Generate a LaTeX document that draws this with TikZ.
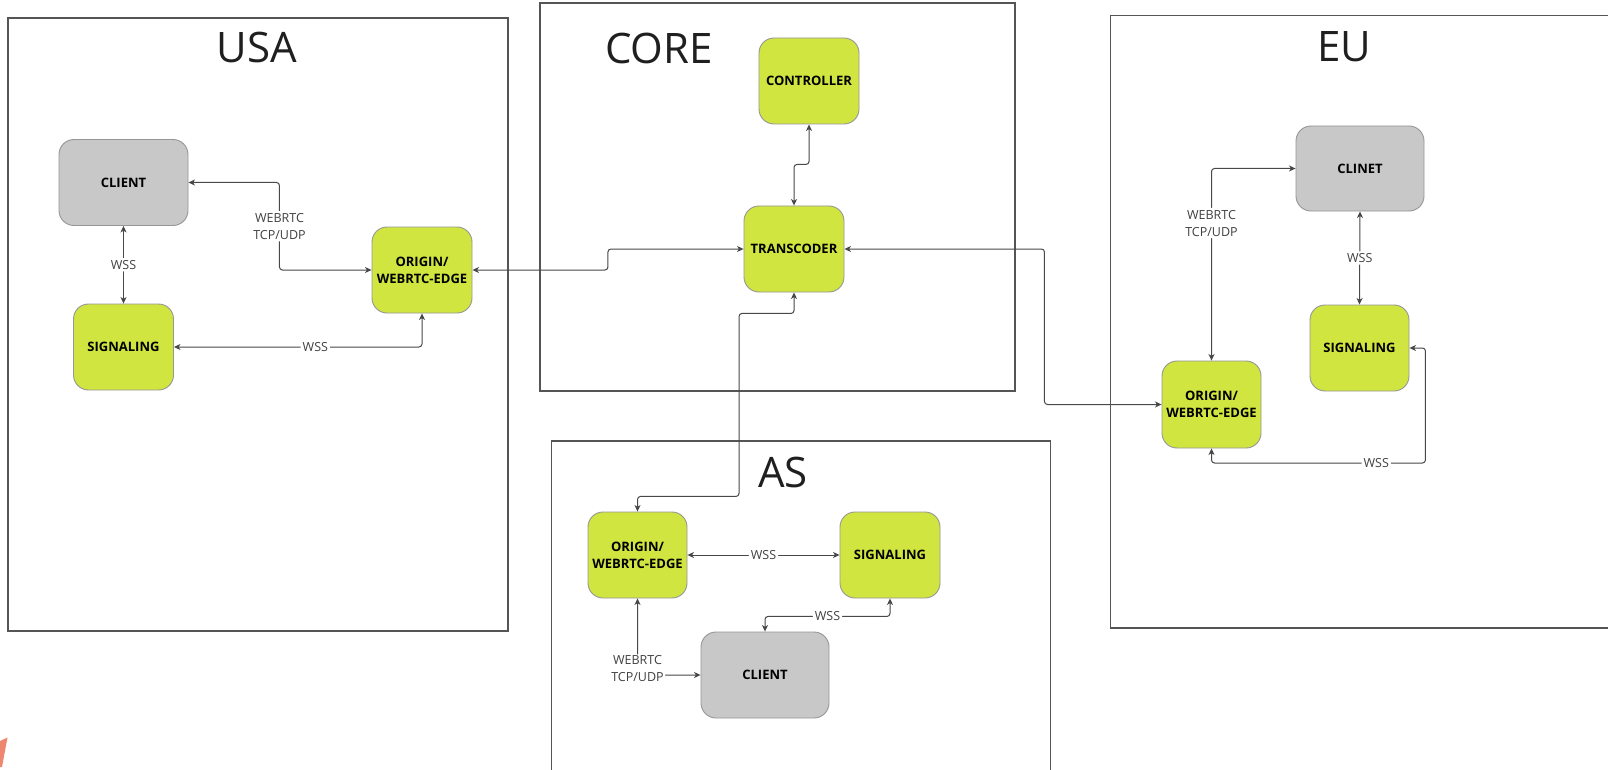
\documentclass[tikz,border=0pt]{standalone}
\usepackage{fontspec}
\setmainfont{Open Sans}
\usetikzlibrary{arrows.meta,calc}
\definecolor{lime}{RGB}{208,229,64}
\definecolor{cgray}{RGB}{200,200,200}
\definecolor{nborder}{RGB}{150,150,150}
\definecolor{gborder}{RGB}{85,85,85}
\definecolor{conncol}{RGB}{72,72,72}
\definecolor{logored}{RGB}{238,135,112}
\tikzset{
  greenbox/.style={draw=nborder, line width=0.9pt, fill=lime, rounded corners=15pt,
    minimum width=100pt, minimum height=86pt, align=center,
    font=\fontsize{13}{17}\selectfont\bfseries, text=black, inner sep=0pt},
  graybox/.style={greenbox, fill=cgray, minimum width=129pt},
  group/.style={draw=gborder, line width=1.2pt},
  title/.style={font=\fontsize{42}{48}\selectfont, text=black!88, inner sep=0pt},
  conn/.style={draw=conncol, line width=1pt, rounded corners=3pt,
    {Stealth[length=6.5pt,width=6pt,inset=1.8pt]}-{Stealth[length=6.5pt,width=6pt,inset=1.8pt]}},
  elabel/.style={fill=white, inner sep=2pt, align=center,
    font=\fontsize{12.5}{17}\selectfont, text=black!75}
}
\begin{document}
\begin{tikzpicture}[x=1pt,y=-1pt]
\path[use as bounding box] (0,0) rectangle (1608,770);
\fill[white] (0,0) rectangle (1608,770);

% group boxes
\draw[group] (8,18) rectangle (508,631);
\draw[group] (540,3) rectangle (1015,391);
\draw[group] (1614,15.5) -- (1110.5,15.5) -- (1110.5,628) -- (1614,628);
\draw[group] (551.5,778) -- (551.5,441) -- (1050.5,441) -- (1050.5,778);

% titles
\node[title] (tusa) at (257,48) {USA};
\node[title] (tcore) at (659,48) {CORE};
\node[title] (teu) at (1344,47) {EU};
\node[title] (tas) at (783,472) {AS};

% USA
\node[graybox] (uc) at (123.5,182.5) {CLIENT};
\node[greenbox] (us) at (123.5,347) {SIGNALING};
\node[greenbox] (uo) at (422,270) {ORIGIN/\\WEBRTC-EDGE};

% CORE
\node[greenbox] (ctrl) at (809,81) {CONTROLLER};
\node[greenbox] (tc) at (794,249) {TRANSCODER};

% EU
\node[graybox, minimum width=128pt, minimum height=85pt] (ec) at (1360,168.5) {CLINET};
\node[greenbox, minimum width=99pt] (es) at (1359.5,348) {SIGNALING};
\node[greenbox, minimum width=99pt, minimum height=87pt] (eo) at (1211.5,404.5) {ORIGIN/\\WEBRTC-EDGE};

% AS
\node[greenbox, minimum width=99pt] (ao) at (637.5,555) {ORIGIN/\\WEBRTC-EDGE};
\node[greenbox] (as) at (890,555) {SIGNALING};
\node[graybox, minimum width=128pt] (ac) at (765,675) {CLIENT};

% USA connectors
\draw[conn] (uc.south) -- node[elabel] {WSS} (us.north);
\draw[conn] (uc.east) -- ++(91,0) |- node[elabel, pos=0.25] {WEBRTC\\TCP/UDP} (uo.west);
\draw[conn] (us.east) -| node[elabel, pos=0.285] {WSS} (uo.south);

% inter-region connectors
\draw[conn] (uo.east) -- ++(135.5,0) |- (tc.west);
\draw[conn] (ctrl.south) -- ++(0,40) -| (tc.north);
\draw[conn] (tc.east) -- ++(200,0) |- (eo.west);
\draw[conn] (tc.south) -- ++(0,21) -- ++(-55,0) -- ++(0,183) -| (ao.north);

% EU connectors
\draw[conn] (eo.north) |- node[elabel, pos=0.358] {WEBRTC\\TCP/UDP} (ec.west);
\draw[conn] (ec.south) -- node[elabel] {WSS} (es.north);
\draw[conn] (es.east) -- ++(16,0) -- ++(0,115) -| node[elabel, pos=0.115] {WSS} (eo.south);

% AS connectors
\draw[conn] (ao.east) -- node[elabel] {WSS} (as.west);
\draw[conn] (as.south) -- ++(0,18) -| node[elabel, pos=0.25] {WSS} (ac.north);
\draw[conn] (ao.south) |- node[elabel, pos=0.5, yshift=6pt, inner sep=1.5pt] {WEBRTC\\TCP/UDP} (ac.west);

% logo fragment
\fill[logored] (0,741) -- (7.5,737.5) -- (2,767) -- (0,767) -- cycle;
\end{tikzpicture}
\end{document}
